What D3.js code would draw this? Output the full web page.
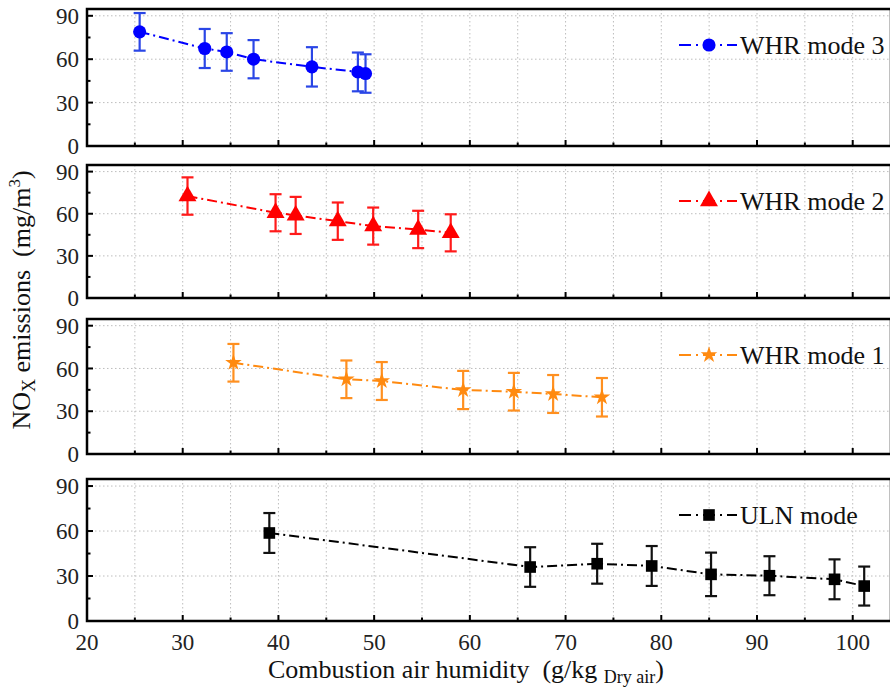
<!DOCTYPE html>
<html>
<head>
<meta charset="utf-8">
<script src="https://cdn.jsdelivr.net/npm/d3@7"></script>
<style>
  body { margin: 0; background: #fff; }
</style>
</head>
<body>
<svg id="chart" width="890" height="690"></svg>
<script>
// humidity (g/kg dry air), NOx (mg/m3), error half-width
const whr3X = [25.5, 32.3, 34.6, 37.4, 43.5, 48.3, 49.1];
const whr3Y = [78.9, 67.4, 65.0, 60.0, 54.7, 51.2, 50.1];
const whr3E = [13.0, 13.5, 13.0, 13.2, 13.6, 13.4, 13.3];

const whr2X = [30.5, 39.7, 41.8, 46.2, 49.9, 54.6, 58.0];
const whr2Y = [72.6, 60.7, 58.8, 54.7, 51.2, 48.8, 46.4];
const whr2E = [13.3, 13.2, 13.2, 13.3, 13.2, 13.3, 13.2];

const whr1X = [35.3, 47.1, 50.8, 59.3, 64.6, 68.7, 73.8];
const whr1Y = [64.0, 52.4, 51.2, 44.9, 43.7, 42.1, 39.8];
const whr1E = [13.2, 13.2, 13.3, 13.4, 13.2, 13.3, 13.5];

const ulnX = [39.05, 66.3, 73.3, 79.0, 85.2, 91.3, 98.1, 101.2];
const ulnY = [58.7, 36.0, 38.2, 36.7, 31.1, 30.2, 27.8, 23.3];
const ulnE = [13.3, 13.2, 13.3, 13.3, 14.5, 13.0, 13.3, 13.0];

const seriesNames = ["WHR mode 3", "WHR mode 2", "WHR mode 1", "ULN mode"];
const xTicks = [20, 30, 40, 50, 60, 70, 80, 90, 100];
const yTicks = [0, 30, 60, 90];

let series = [
  {name: seriesNames[0], xs: whr3X, ys: whr3Y, es: whr3E, color: "#0000ff", errColor: "#2a46e6", sym: d3.symbolCircle, size: 135},
  {name: seriesNames[1], xs: whr2X, ys: whr2Y, es: whr2E, color: "#ff0000", errColor: "#ff1a1a", sym: d3.symbolTriangle, size: 140},
  {name: seriesNames[2], xs: whr1X, ys: whr1Y, es: whr1E, color: "#ff8a10", errColor: "#ff9020", sym: d3.symbolStar, size: 85},
  {name: seriesNames[3], xs: ulnX, ys: ulnY, es: ulnE, color: "#000000", errColor: "#111111", sym: d3.symbolSquare, size: 135}
];

const svg = d3.select("#chart").style("font-family", "'Liberation Serif'");
const font = "'Liberation Serif'";
const left = 87, right = 891;
const panelTops = [9, 165, 319, 479];
const panelBottoms = [146, 298, 454, 621];

const x = d3.scaleLinear().domain([20, 104]).range([left, right]);
const dash = "10,4,2,4";

series.forEach((s, i) => {
  let y = d3.scaleLinear().domain([0, 94.7]).range([panelBottoms[i], panelTops[i]]);
  let g = svg.append("g");
  let pts = s.xs.map((v, j) => ({x: v, y: s.ys[j], e: s.es[j]}));

  // grid
  g.selectAll(".vg").data(d3.range(25, 104, 5)).enter().append("line")
    .attr("x1", d => x(d)).attr("x2", d => x(d))
    .attr("y1", panelTops[i]).attr("y2", panelBottoms[i])
    .attr("stroke", "#bdbdbd").attr("stroke-width", 1).attr("stroke-dasharray", "1.5,2.5");
  g.selectAll(".hg").data([30, 60, 90]).enter().append("line")
    .attr("x1", left).attr("x2", right)
    .attr("y1", d => y(d)).attr("y2", d => y(d))
    .attr("stroke", "#bdbdbd").attr("stroke-width", 1).attr("stroke-dasharray", "1.5,2.5");

  // inward ticks
  g.selectAll(".xt").data(d3.range(20, 104, 5)).enter().append("line")
    .attr("x1", d => x(d)).attr("x2", d => x(d))
    .attr("y1", panelBottoms[i]).attr("y2", d => panelBottoms[i] - (d % 10 == 0 ? 6 : 3.5))
    .attr("stroke", "#000").attr("stroke-width", 2);
  g.selectAll(".yt").data(d3.range(0, 91, 15)).enter().append("line")
    .attr("x1", left).attr("x2", d => left + (d % 30 == 0 ? 6 : 3.5))
    .attr("y1", d => y(d)).attr("y2", d => y(d))
    .attr("stroke", "#000").attr("stroke-width", 2);

  // frame
  g.append("rect")
    .attr("x", left).attr("y", panelTops[i])
    .attr("width", right - left).attr("height", panelBottoms[i] - panelTops[i])
    .attr("fill", "none").attr("stroke", "#000").attr("stroke-width", 2.5);

  // y labels
  g.selectAll(".yl").data(yTicks).enter().append("text")
    .attr("x", 79).attr("y", d => y(d)).attr("dy", "0.35em")
    .attr("text-anchor", "end").style("font-family", font).attr("font-size", 23).attr("fill", "#222")
    .text(d => d);

  // line
  let line = d3.line().x(d => x(d.x)).y(d => y(d.y));
  g.append("path").datum(pts).attr("d", line)
    .attr("fill", "none").attr("stroke", s.color).attr("stroke-width", 2)
    .attr("stroke-dasharray", dash);

  // error bars
  let eb = g.selectAll(".eb").data(pts).enter().append("g").attr("stroke", s.errColor).attr("stroke-width", 2.2);
  eb.append("line").attr("x1", d => x(d.x)).attr("x2", d => x(d.x))
    .attr("y1", d => y(d.y + d.e)).attr("y2", d => y(d.y - d.e));
  eb.append("line").attr("x1", d => x(d.x) - 6).attr("x2", d => x(d.x) + 6)
    .attr("y1", d => y(d.y + d.e)).attr("y2", d => y(d.y + d.e));
  eb.append("line").attr("x1", d => x(d.x) - 6).attr("x2", d => x(d.x) + 6)
    .attr("y1", d => y(d.y - d.e)).attr("y2", d => y(d.y - d.e));

  // markers
  g.selectAll(".mk").data(pts).enter().append("path")
    .attr("d", d3.symbol().type(s.sym).size(s.size))
    .attr("transform", d => "translate(" + x(d.x) + "," + y(d.y) + ")")
    .attr("fill", s.color);

  // legend
  let ly = panelTops[i] + 36;
  g.append("line").attr("x1", 679).attr("x2", 737).attr("y1", ly).attr("y2", ly)
    .attr("stroke", s.color).attr("stroke-width", 2).attr("stroke-dasharray", "12,5,2,5");
  g.append("path").attr("d", d3.symbol().type(s.sym).size(s.size))
    .attr("transform", "translate(709," + ly + ")").attr("fill", s.color);
  g.append("text").attr("x", 740).attr("y", ly).attr("dy", "0.35em")
    .style("font-family", font).attr("font-size", 26).attr("fill", "#111").text(s.name);
});

// x labels (bottom panel only)
svg.selectAll(".xl").data(xTicks).enter().append("text")
  .attr("x", d => x(d)).attr("y", 650)
  .attr("text-anchor", "middle").style("font-family", font).attr("font-size", 23).attr("fill", "#222")
  .text(d => d);

// axis titles
let xt = svg.append("text").attr("x", 466).attr("y", 678)
  .attr("text-anchor", "middle").style("font-family", font).attr("font-size", 26).attr("fill", "#111");
xt.append("tspan").text("Combustion air humidity\u00a0\u00a0(g/kg ");
xt.append("tspan").attr("font-size", 18).attr("dy", 5).text("Dry air");
xt.append("tspan").attr("dy", -5).text(")");

let yt = svg.append("text")
  .attr("transform", "translate(30,300) rotate(-90)")
  .attr("text-anchor", "middle").style("font-family", font).attr("font-size", 26).attr("fill", "#111");
yt.append("tspan").text("NO");
yt.append("tspan").attr("font-size", 18).attr("dy", 5).text("X");
yt.append("tspan").attr("dy", -5).text(" emissions\u00a0\u00a0(mg/m");
yt.append("tspan").attr("font-size", 17).attr("dy", -10).text("3");
yt.append("tspan").attr("dy", 10).text(")");
</script>
</body>
</html>
